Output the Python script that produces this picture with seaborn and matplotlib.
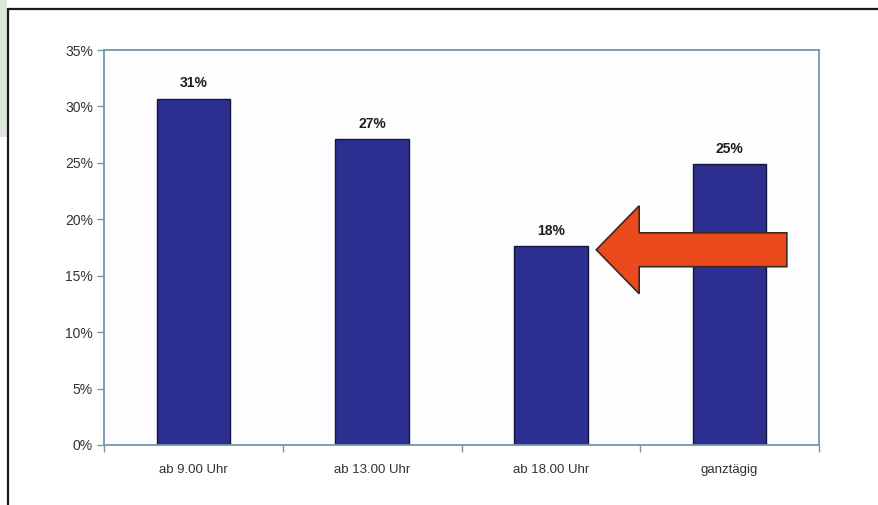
import matplotlib
matplotlib.use("Agg")
import matplotlib.pyplot as plt
from matplotlib.patches import FancyArrow, Rectangle
from matplotlib.lines import Line2D
from matplotlib.ticker import FuncFormatter, FixedLocator
import seaborn as sns
import pandas as pd

# Share of responses per time slot
categories = ["ab 9.00 Uhr", "ab 13.00 Uhr", "ab 18.00 Uhr", "ganztägig"]
shares = [30.7, 27.1, 17.6, 24.9]
y_ticks = [0, 5, 10, 15, 20, 25, 30, 35]

sns.set_theme(style="white")
plt.rcParams["font.family"] = ["Liberation Sans", "DejaVu Sans"]

df = pd.DataFrame({"slot": categories, "share": shares})

W, H = 879, 505
fig = plt.figure(figsize=(W / 100, H / 100), dpi=100)
fig.patch.set_facecolor("white")

# page decoration: pale side panel and dark frame
fig.add_artist(Rectangle((0, 1 - 137 / H), 7 / W, 137 / H, transform=fig.transFigure,
                         facecolor="#dde5dd", edgecolor="none", zorder=0))
fig.add_artist(Line2D([8 / W, 1.0], [1 - 9 / H, 1 - 9 / H], transform=fig.transFigure,
                      color="#1a1a1a", lw=1.6))
fig.add_artist(Line2D([8 / W, 8 / W], [0, 1 - 9 / H], transform=fig.transFigure,
                      color="#1a1a1a", lw=1.6))

ax = fig.add_axes([104 / W, (H - 445) / H, (819 - 104) / W, (445 - 50) / H])
ax.set_facecolor("#fdfdff")

sns.barplot(data=df, x="slot", y="share", ax=ax, color="#2c2f90",
            saturation=1, width=0.41, edgecolor="#15153a", linewidth=1.0, zorder=2)

ax.set_xlim(-0.5, len(categories) - 0.5)
ax.set_ylim(0, 35)
ax.yaxis.set_major_locator(FixedLocator(y_ticks))
ax.yaxis.set_major_formatter(FuncFormatter(lambda v, _: f"{v:.0f}%"))
ax.set_xlabel("")
ax.set_ylabel("")

spine_col = "#7397ab"
for s in ax.spines.values():
    s.set_visible(True)
    s.set_color(spine_col)
    s.set_linewidth(1.3)

ax.tick_params(axis="y", which="major", direction="out", length=5, width=1,
               color=spine_col, left=True, labelsize=10, labelcolor="#2e3338", pad=3)
# category labels centred, tick marks on category boundaries
ax.tick_params(axis="x", which="major", length=0, labelsize=9.5,
               labelcolor="#2e3338", pad=14)
ax.set_xticks(range(len(categories)))
ax.set_xticklabels(categories)
ax.set_xticks([i + 0.5 for i in range(-1, len(categories))], minor=True)
ax.tick_params(axis="x", which="minor", direction="out", length=5, width=1,
               color=spine_col, bottom=True)

for i, v in enumerate(shares):
    ax.annotate(f"{round(v):d}%", (i, v), xytext=(0, 6), textcoords="offset points",
                ha="center", va="bottom", fontsize=10, fontweight="bold", color="#1e1e1e")

# highlight arrow pointing at the evening slot
ax.add_patch(FancyArrow(3.32, 17.3, -1.066, 0, width=3.0, head_width=7.8,
                        head_length=0.24, length_includes_head=True,
                        facecolor="#ea4a1c", edgecolor="#3a2a20", linewidth=1.2,
                        zorder=5, clip_on=False))

fig.savefig("out.png", dpi=100)
